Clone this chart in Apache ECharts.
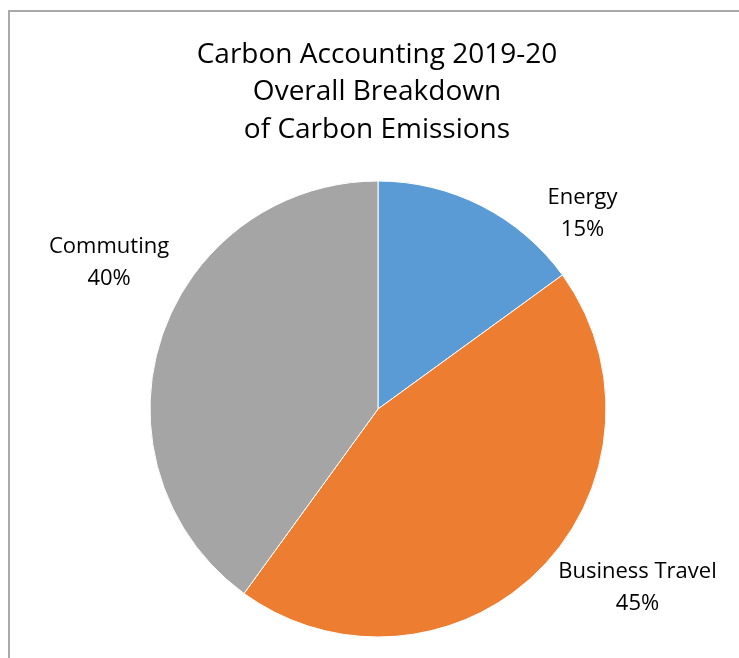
<!DOCTYPE html>
<html>
<head>
<meta charset="utf-8">
<script src="https://cdn.jsdelivr.net/npm/echarts@6/dist/echarts.min.js"></script>
<style>
  html, body { margin: 0; padding: 0; background: #fff; }
  #wrap { position: relative; width: 739px; height: 658px; overflow: hidden; }
  #frame { position: absolute; left: 8px; top: 10px; width: 800px; height: 800px;
           border-left: 2px solid #a9a9a9; border-top: 2px solid #a9a9a9; box-sizing: border-box; }
  #chart { position: absolute; left: 0; top: 0; width: 739px; height: 658px; }
</style>
</head>
<body>
<div id="wrap">
  <div id="frame"></div>
  <div id="chart"></div>
</div>
<script>
const titleLines = ["Carbon Accounting 2019-20", "Overall Breakdown", "of Carbon Emissions"];
const categories = ["Energy", "Business Travel", "Commuting"];
const values = [15, 45, 40];
const colors = ["#5B9BD5", "#ED7D31", "#A5A5A5"];
const labelOffsets = [[61, 8], [14, 18], [13, -76]];

const chart = echarts.init(document.getElementById('chart'), null, { renderer: 'canvas' });
chart.setOption({
  animation: false,
  title: {
    text: titleLines.join('\n'),
    left: 372,
    top: 31,
    textAlign: 'center',
    textStyle: { fontFamily: 'Open Sans', fontSize: 28, fontWeight: 'normal', color: '#000', lineHeight: 37.5 }
  },
  series: [{
    type: 'pie',
    center: [378, 409],
    radius: 228,
    startAngle: 90,
    clockwise: true,
    avoidLabelOverlap: false,
    itemStyle: { borderColor: '#fff', borderWidth: 1 },
    label: {
      show: true,
      position: 'outside',
      formatter: p => p.name + '\n' + Math.round(p.percent) + '%',
      fontFamily: 'Open Sans',
      fontSize: 22,
      lineHeight: 32,
      color: '#000',
      align: 'center'
    },
    labelLine: { show: false, length: 0, length2: 0 },
    labelLayout: function (p) {
      const off = labelOffsets[p.dataIndex];
      return {
        x: p.labelRect.x + p.labelRect.width / 2 + off[0],
        y: p.labelRect.y + p.labelRect.height / 2 + off[1],
        align: 'center',
        verticalAlign: 'middle'
      };
    },
    data: categories.map((c, i) => ({ name: c, value: values[i], itemStyle: { color: colors[i] } }))
  }]
});
</script>
</body>
</html>
